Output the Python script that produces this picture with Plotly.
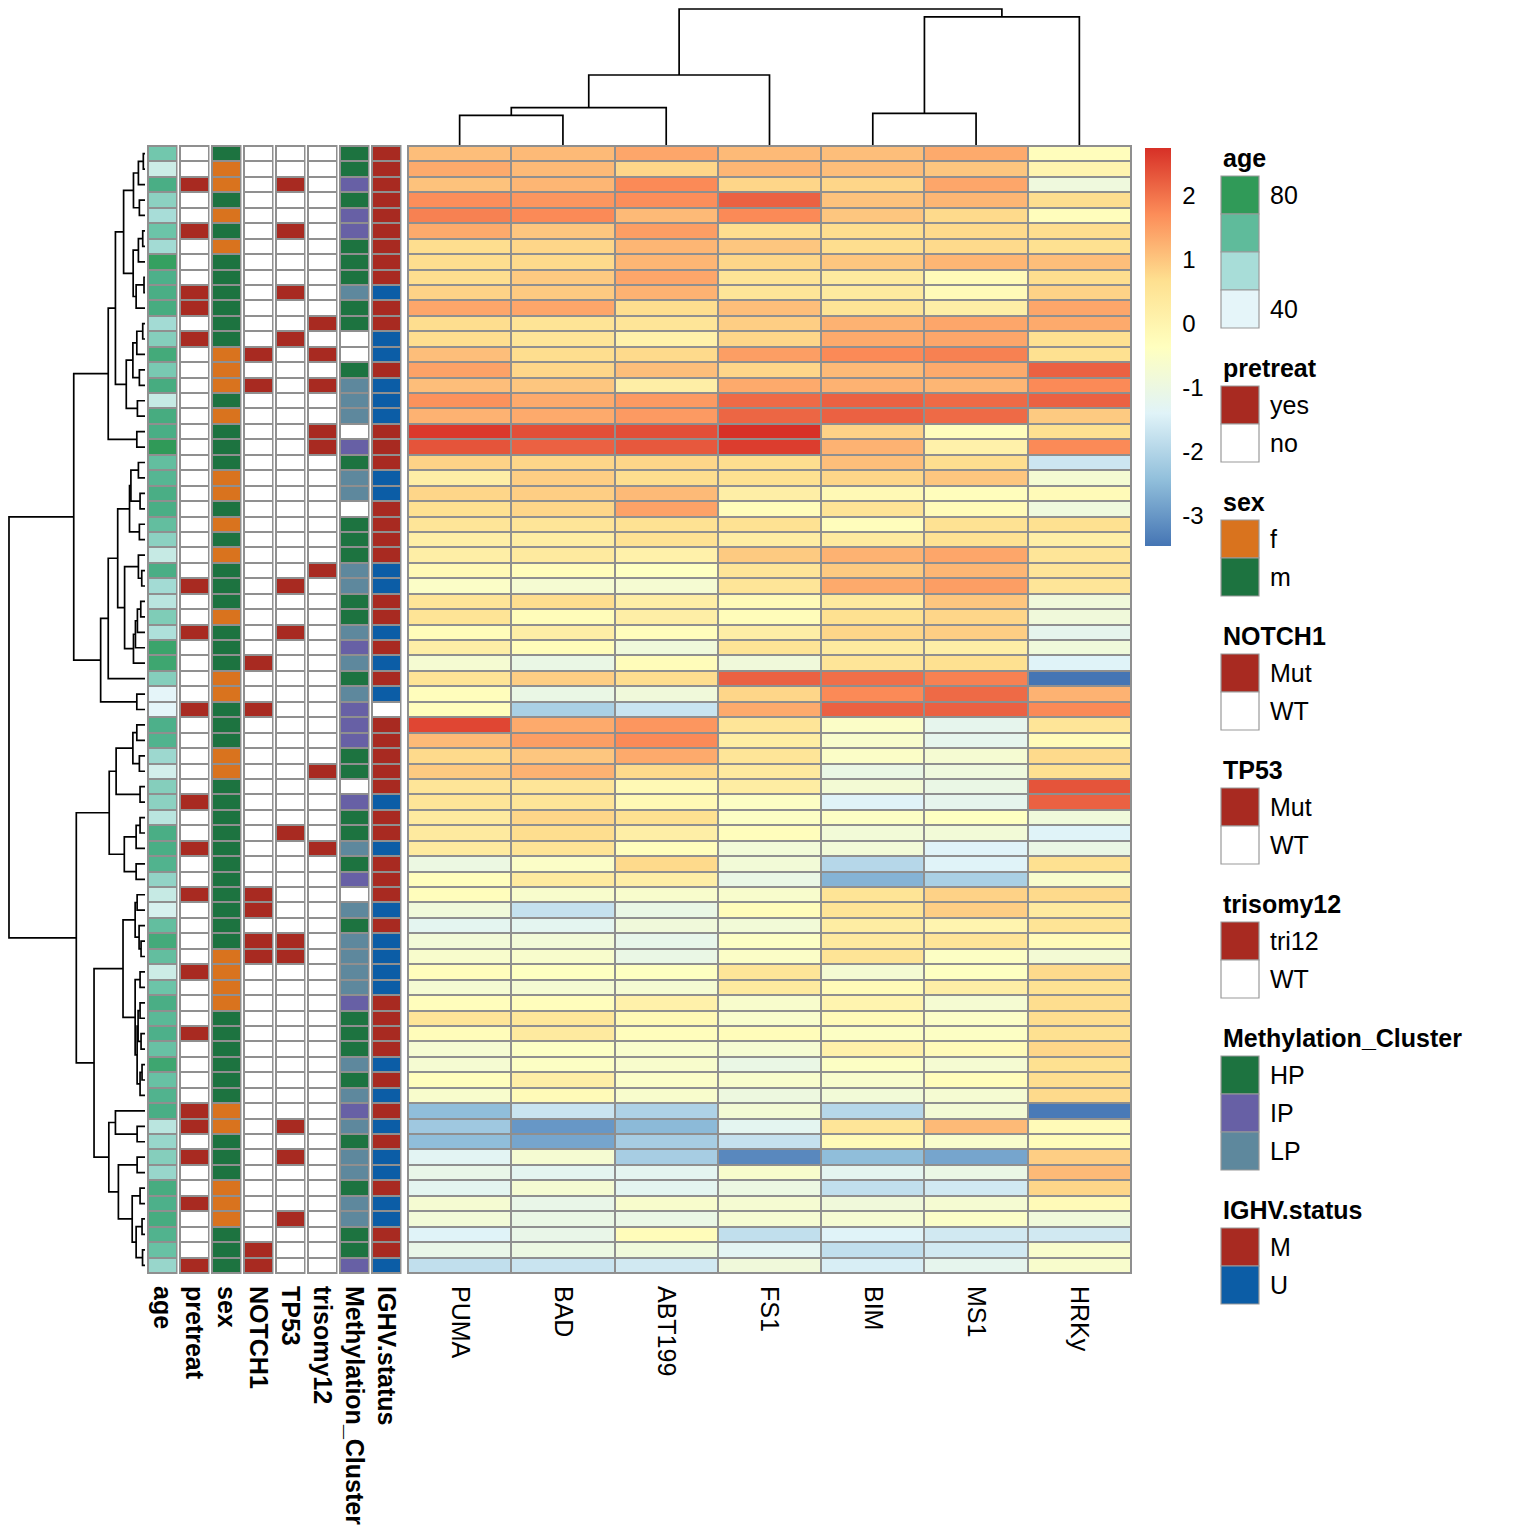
import numpy as np
import plotly.graph_objects as go

# the page adds an 8 px body margin; the figure is sized and shifted to compensate
OFF = 8
W, H = 1536 - OFF, 1536 - OFF
FONT = "Liberation Sans, Arial, Helvetica, sans-serif"

# ---------------- data ----------------
drugs = ["PUMA", "BAD", "ABT199", "FS1", "BIM", "MS1", "HRKy"]

PUMA = [1.1, 1.35, 1.05, 1.7, 1.85, 1.35, 0.7, 0.7, 0.7, 0.85,
        1.4, 0.7, 0.7, 1.1, 1.45, 1.1, 1.65, 1.25, 2.65, 2.35,
        0.85, 0.2, 0.8, 0.65, 0.5, 0.2, 0.2, -0.15, -0.5, 0.5,
        0.55, -0.25, 0.2, -0.7, 0.55, -0.3, -0.3, 2.5, 1.15, 0.75,
        0.95, 0.5, 0.5, 0.35, 0.35, 0.35, -1.0, -0.3, -0.3, -0.85,
        -1.25, -0.8, -0.6, -0.3, -0.7, -0.3, 0.5, -0.25, -0.7, -0.7,
        -0.3, -0.6, -2.45, -2.25, -2.45, -1.3, -1.1, -1.25, -0.7, -0.8,
        -1.4, -1.1, -1.8]
BAD = [1.15, 1.15, 1.2, 1.6, 1.75, 1.0, 0.8, 0.75, 0.95, 0.95,
       1.4, 0.55, 0.5, 0.7, 0.8, 1.0, 1.35, 1.35, 2.4, 2.2,
       0.8, 0.9, 0.9, 0.8, 0.5, 0.25, 0.35, -0.25, -0.7, 0.7,
       -0.25, 0.2, -0.25, -1.05, 0.9, -1.05, -2.1, 1.35, 1.5, 1.0,
       1.25, 0.5, 0.5, 0.8, 0.7, 0.55, -0.5, 0.35, -0.6, -1.75,
       -1.25, -0.8, -0.6, -0.4, -0.7, -0.3, 0.45, 0.35, -0.45, -0.45,
       0.2, -0.2, -1.7, -3.0, -2.8, -0.7, -1.25, -0.7, -1.1, -1.05,
       -1.1, -1.0, -1.7]
ABT199 = [1.4, 0.8, 1.75, 1.7, 1.15, 1.5, 1.2, 1.2, 1.4, 1.25,
          0.7, 0.5, 0.1, 0.75, 1.1, 0.2, 1.55, 1.55, 2.4, 2.3,
          0.8, 0.7, 1.15, 1.45, 0.6, 0.6, 0.1, -0.4, -0.7, 0.2,
          0.2, -0.3, -0.85, -0.25, 0.7, -0.85, -1.7, 1.6, 1.75, 1.35,
          0.75, -0.15, -0.15, 0.65, 0.2, -0.3, 0.75, 0.2, -0.6, -1.05,
          -0.85, -1.15, -1.05, -0.4, -0.7, 0.1, -0.15, -0.3, -0.6, -0.6,
          -0.5, -0.6, -2.05, -2.5, -2.15, -2.15, -1.25, -1.25, -0.6, -1.05,
          -0.25, -0.85, -1.6]
FS1 = [1.15, 1.2, 0.8, 2.2, 1.75, 0.7, 1.0, 0.8, 0.55, 0.5,
       1.1, 0.9, 0.8, 1.5, 0.8, 1.35, 2.1, 2.15, 2.75, 2.6,
       0.7, 0.65, 0.2, -0.25, 0.6, 0.25, 0.95, 0.5, 0.5, -0.2,
       -0.25, 0.2, 0.55, -0.85, 2.2, 0.8, 1.35, 0.5, 0.25, 0.5,
       0.35, 0.25, -0.45, -0.45, -0.3, -0.8, -0.8, -1.05, -0.6, -0.25,
       -0.8, -0.45, -0.5, 0.5, 0.35, -0.6, -0.6, -0.25, -0.7, -1.05,
       -0.6, -0.95, -0.75, -1.25, -1.75, -3.2, -0.6, -1.0, -0.7, -0.7,
       -1.8, -1.3, -0.85]
BIM = [1.1, 1.1, 0.8, 1.05, 1.0, 0.7, 0.7, 1.0, 0.35, 0.35,
       0.55, 1.25, 1.35, 1.75, 1.15, 1.25, 2.2, 2.2, 0.85, 1.25,
       1.1, 0.8, -0.15, 0.55, -0.3, 0.35, 1.25, 0.95, 1.35, 0.35,
       0.65, 0.8, 0.35, 0.5, 2.05, 1.75, 2.2, -0.5, -0.6, -0.5,
       -1.05, -0.75, -1.4, -0.45, -0.8, -0.8, -1.95, -2.6, 0.55, 0.55,
       0.25, 0.35, 0.55, -0.7, -0.2, 0.0, -0.2, -0.45, 0.1, -0.45,
       -0.6, -0.8, -1.95, 0.5, -0.2, -2.45, -1.25, -1.8, -0.85, -0.7,
       -1.4, -1.8, -1.5]
MS1 = [1.35, 1.0, 1.4, 1.2, 0.75, 0.75, 0.75, 1.2, -0.2, -0.2,
       0.2, 1.4, 1.4, 1.85, 1.35, 1.2, 2.1, 2.1, -0.3, 0.1,
       0.7, 1.0, -0.3, -0.2, 0.6, 0.6, 1.4, 1.2, 1.5, 1.0,
       0.8, 0.9, 0.2, 0.65, 1.85, 2.1, 2.2, -1.2, -1.2, -0.7,
       -0.9, -1.05, -1.2, -0.4, -0.8, -1.4, -1.4, -2.1, 0.85, 0.9,
       0.0, 0.5, -0.45, -0.4, 0.2, -0.7, -0.5, -0.45, -0.2, -0.7,
       -0.25, -0.7, -0.75, 1.15, -0.6, -2.8, -1.05, -1.6, -0.7, -0.5,
       -1.6, -1.6, -1.2]
HRKy = [-0.3, 0.0, -0.9, 0.7, -0.3, 0.7, 0.65, 1.1, 0.7, 0.85,
        1.4, 1.35, 0.65, 0.65, 2.2, 1.75, 2.2, 0.95, 0.65, 1.75,
        -1.65, -0.7, -0.2, -0.9, 0.65, 0.2, 0.5, 0.5, 0.5, -0.85,
        -0.85, -1.2, -0.85, -1.4, -3.47, 1.25, 1.75, 0.5, -0.2, 0.75,
        0.65, 2.35, 2.2, -0.85, -1.4, -1.05, 0.65, -0.6, 0.75, 0.35,
        0.55, -0.2, -0.75, 0.75, 0.6, 0.7, 0.7, 0.65, 0.8, 0.65,
        0.7, 0.75, -3.4, -0.2, -0.25, 0.9, 1.15, 0.8, -0.2, -0.85,
        -1.6, -0.6, -0.6]

age = [62, 47, 71, 58, 53, 63, 54, 78, 70, 71,
       72, 54, 59, 73, 61, 72, 48, 72, 71, 80,
       65, 68, 71, 71, 65, 58, 48, 71, 54, 50,
       60, 52, 76, 75, 59, 40, 40, 70, 69, 55,
       45, 59, 58, 50, 71, 71, 69, 57, 48, 44,
       65, 73, 65, 47, 63, 71, 67, 70, 64, 75,
       64, 69, 71, 50, 56, 59, 56, 72, 70, 72,
       69, 64, 56]
pretreat = ["no", "no", "yes", "no", "no", "yes", "no", "no", "no", "yes",
            "yes", "no", "yes", "no", "no", "no", "no", "no", "no", "no",
            "no", "no", "no", "no", "no", "no", "no", "no", "yes", "no",
            "no", "yes", "no", "no", "no", "no", "yes", "no", "no", "no",
            "no", "no", "yes", "no", "no", "yes", "no", "no", "yes", "no",
            "no", "no", "no", "yes", "no", "no", "no", "yes", "no", "no",
            "no", "no", "yes", "yes", "no", "yes", "no", "no", "yes", "no",
            "no", "no", "yes"]
sex = ["m", "f", "f", "m", "f", "m", "f", "m", "m", "m",
       "m", "m", "m", "f", "f", "f", "m", "f", "m", "m",
       "m", "f", "f", "m", "f", "m", "f", "m", "m", "m",
       "f", "m", "m", "m", "f", "f", "m", "m", "m", "f",
       "f", "m", "m", "m", "m", "m", "m", "m", "m", "m",
       "m", "m", "f", "f", "f", "f", "m", "m", "m", "m",
       "m", "m", "f", "f", "m", "m", "m", "f", "f", "f",
       "m", "m", "m"]
NOTCH1 = ["WT"] * 13 + ["Mut", "WT", "Mut"] + ["WT"] * 17 + ["Mut", "WT", "WT", "Mut"] + \
         ["WT"] * 11 + ["Mut", "Mut", "WT", "Mut", "Mut"] + ["WT"] * 18 + ["Mut", "Mut"]
TP53 = ["WT", "WT", "Mut", "WT", "WT", "Mut", "WT", "WT", "WT", "Mut",
        "WT", "WT", "Mut", "WT", "WT", "WT", "WT", "WT", "WT", "WT",
        "WT", "WT", "WT", "WT", "WT", "WT", "WT", "WT", "Mut", "WT",
        "WT", "Mut", "WT", "WT", "WT", "WT", "WT", "WT", "WT", "WT",
        "WT", "WT", "WT", "WT", "Mut", "WT", "WT", "WT", "WT", "WT",
        "WT", "Mut", "Mut", "WT", "WT", "WT", "WT", "WT", "WT", "WT",
        "WT", "WT", "WT", "Mut", "WT", "Mut", "WT", "WT", "WT", "Mut",
        "WT", "WT", "WT"]
trisomy12 = ["WT", "WT", "WT", "WT", "WT", "WT", "WT", "WT", "WT", "WT",
             "WT", "tri12", "WT", "tri12", "WT", "tri12", "WT", "WT", "tri12", "tri12",
             "WT", "WT", "WT", "WT", "WT", "WT", "WT", "tri12", "WT", "WT",
             "WT", "WT", "WT", "WT", "WT", "WT", "WT", "WT", "WT", "WT",
             "tri12", "WT", "WT", "WT", "WT", "tri12", "WT", "WT", "WT", "WT",
             "WT", "WT", "WT", "WT", "WT", "WT", "WT", "WT", "WT", "WT",
             "WT", "WT", "WT", "WT", "WT", "WT", "WT", "WT", "WT", "WT",
             "WT", "WT", "WT"]
Methylation_Cluster = ["HP", "HP", "IP", "HP", "IP", "IP", "HP", "HP", "HP", "LP",
                       "HP", "HP", "NA", "NA", "HP", "LP", "LP", "LP", "NA", "IP",
                       "HP", "LP", "LP", "NA", "HP", "HP", "HP", "LP", "LP", "HP",
                       "HP", "LP", "IP", "LP", "HP", "LP", "IP", "IP", "IP", "HP",
                       "HP", "NA", "IP", "HP", "HP", "LP", "HP", "IP", "NA", "LP",
                       "HP", "LP", "LP", "LP", "LP", "IP", "HP", "HP", "HP", "LP",
                       "HP", "LP", "IP", "LP", "HP", "LP", "LP", "HP", "LP", "LP",
                       "HP", "HP", "IP"]
IGHV_status = ["M", "M", "M", "M", "M", "M", "M", "M", "M", "U",
               "M", "M", "U", "U", "M", "U", "U", "U", "M", "M",
               "M", "U", "U", "M", "M", "M", "M", "U", "U", "M",
               "M", "U", "M", "U", "M", "U", "NA", "M", "M", "M",
               "M", "M", "U", "M", "M", "U", "M", "M", "M", "U",
               "M", "U", "U", "U", "U", "M", "M", "M", "M", "U",
               "M", "U", "M", "U", "M", "U", "U", "M", "U", "U",
               "M", "M", "U"]

# dendrogram merges: [left, right, height]; leaves are display positions
row_top = [[[[[[1, 2, 1.7], 3, 6.7], [4, 5, 5.7], 11.7],
             [[[6, 7, 2.3], 8, 6.7], [[9, 10, 1.0], 11, 9.0], 12.0], 21.7],
            [[[[12, 13, 2.3], 14, 8.3], [15, 16, 5.7], 12.3], [17, 18, 7.7], 19.0], 30.0],
           [19, 20, 8.3], 37.3]
row_mid = [[[[[[21, 22, 6.7], [23, 24, 5.0], 14.3], [25, 26, 5.7], 15.7],
             [[27, [28, 29, 3.3], 6.7], [[[[30, 31, 4.3], 32, 7.7], 33, 9.7], 34, 11.7], 20.7], 27.7],
            35, 37.3], [36, 37, 8.3], 45.0]
row_r1 = [[[[38, 39, 8.3], [40, 41, 5.7], 12.3], [42, 43, 5.0], 29.3],
          [[[44, 45, 5.0], 46, 9.0], [47, 48, 9.0], 21.0], 36.3]
row_ab = [[[49, 50, 8.0], [51, [52, 53, 4.0], 6.0], 10.0],
          [[54, 55, 5.0], [[[56, 57, 5.0], [58, 59, 4.0], 7.0], [[60, 61, 3.0], 62, 5.0], 8.0], 10.0], 22.3]
row_c = [[63, [64, 65, 8.0], 30.0],
         [[66, 67, 8.0], [[68, 69, 5.0], [[70, 71, 3.0], [72, 73, 2.5], 9.0], 13.0], 27.0], 36.7]
row_tree = [[row_top, row_mid, 72.3], [row_r1, [row_ab, row_c, 51.7], 69.7], 138.0]
col_tree = [[[[1, 2, 30.0], 3, 38.0], 4, 71.0], [[5, 6, 32.0], 7, 130.0], 138.0]

assert all(len(v) == 73 for v in [PUMA, BAD, ABT199, FS1, BIM, MS1, HRKy, age, pretreat, sex,
                                   NOTCH1, TP53, trisomy12, Methylation_Cluster, IGHV_status])

# ---------------- styles ----------------
RED = "#A82A21"
WHITE = "#FFFFFF"
ORANGE = "#D9731E"
DGREEN = "#1D7340"
PURPLE = "#6760A5"
SLATE = "#5E889D"
BLUE = "#0C5DA6"
GRID = "#8F8F8F"
heat_colors = ["#4575B4", "#91BFDB", "#E0F3F8", "#FFFFBF", "#FEE090", "#FC8D59", "#D73027"]
heat_cs = [[i / 6, c] for i, c in enumerate(heat_colors)]
age_stops = [(38, "#EDF8FB"), (40, "#E5F5F9"), (47, "#CCECE6"), (53, "#A8DDD8"), (57, "#92D3C6"),
             (63, "#6CC4A8"), (70, "#4DB08A"), (78, "#35A060"), (82, "#2A9450")]
AGE_MIN, AGE_MAX = 38, 82
age_cs = [[(v - AGE_MIN) / (AGE_MAX - AGE_MIN), c] for v, c in age_stops]


def hex2rgb(h):
    h = h.lstrip("#")
    return [int(h[i:i + 2], 16) for i in (0, 2, 4)]


def interp(stops, v):
    for (v0, c0), (v1, c1) in zip(stops[:-1], stops[1:]):
        if v0 <= v <= v1:
            t = (v - v0) / (v1 - v0)
            a, b = hex2rgb(c0), hex2rgb(c1)
            r = [round(a[k] + t * (b[k] - a[k])) for k in range(3)]
            return "rgb(%d,%d,%d)" % tuple(r)
    return stops[-1][1]


def px(x):
    return (x - OFF) / W


def py(y):
    return 1 - (y - OFF) / H


def discrete_cs(colors):
    n = len(colors)
    cs = []
    for i, c in enumerate(colors):
        cs.append([i / n, c])
        cs.append([(i + 1) / n, c])
    return cs


def dendro(node, segs):
    if isinstance(node, int):
        return float(node), 0.0
    left, right, h = node
    p1, h1 = dendro(left, segs)
    p2, h2 = dendro(right, segs)
    segs.append([(p1, h1), (p1, h), (p2, h), (p2, h2)])
    return (p1 + p2) / 2, h


rows = list(range(1, 74))
fig = go.Figure()
shapes = []
annotations = []

# main heatmap
values = [PUMA, BAD, ABT199, FS1, BIM, MS1, HRKy]
z = np.array(values).T
zmin, zmax = float(z.min()), float(z.max())
fig.add_trace(go.Heatmap(
    z=z, x=list(range(1, 8)), y=rows, colorscale=heat_cs, zmin=zmin, zmax=zmax,
    xgap=2, ygap=2, hoverinfo="skip", xaxis="x", yaxis="y",
    colorbar=dict(x=px(1145), xanchor="left", y=py(347), yanchor="middle",
                  len=398, lenmode="pixels", thickness=26, thicknessmode="pixels",
                  outlinewidth=0, borderwidth=0, xpad=0, ypad=0,
                  tickvals=[-3, -2, -1, 0, 1, 2], ticktext=["-3", "-2", "-1", "0", "1", "2"],
                  ticks="outside", ticklen=7, tickcolor="rgba(0,0,0,0)",
                  tickfont=dict(size=24, color="black", family=FONT))))
shapes.append(dict(type="rect", xref="paper", yref="paper", x0=px(407), x1=px(1132),
                   y0=py(1274), y1=py(145), fillcolor=GRID, line=dict(width=0), layer="below"))

# annotation columns
anno_specs = [
    ("age", age, None, None),
    ("pretreat", pretreat, ["yes", "no"], [RED, WHITE]),
    ("sex", sex, ["f", "m"], [ORANGE, DGREEN]),
    ("NOTCH1", NOTCH1, ["Mut", "WT"], [RED, WHITE]),
    ("TP53", TP53, ["Mut", "WT"], [RED, WHITE]),
    ("trisomy12", trisomy12, ["tri12", "WT"], [RED, WHITE]),
    ("Methylation_Cluster", Methylation_Cluster, ["HP", "IP", "LP", "NA"], [DGREEN, PURPLE, SLATE, WHITE]),
    ("IGHV.status", IGHV_status, ["M", "U", "NA"], [RED, BLUE, WHITE]),
]

layout_axes = {}
for i, (name, vals, cats, cols) in enumerate(anno_specs):
    ax = i + 2
    x0 = 148 + 32 * i
    x1 = x0 + 28.5
    if cats is None:
        zz = [[v] for v in vals]
        tr = go.Heatmap(z=zz, x=[1], y=rows, colorscale=age_cs, zmin=AGE_MIN, zmax=AGE_MAX,
                        showscale=False, xgap=2, ygap=2, hoverinfo="skip",
                        xaxis="x%d" % ax, yaxis="y")
    else:
        zz = [[cats.index(v)] for v in vals]
        tr = go.Heatmap(z=zz, x=[1], y=rows, colorscale=discrete_cs(cols), zmin=-0.5,
                        zmax=len(cats) - 0.5, showscale=False, xgap=2, ygap=2,
                        hoverinfo="skip", xaxis="x%d" % ax, yaxis="y")
    fig.add_trace(tr)
    layout_axes["xaxis%d" % ax] = dict(
        domain=[px(x0), px(x1)], range=[0.5, 1.5], anchor="y", tickvals=[1],
        ticktext=["<b>%s</b>" % name], tickangle=90, showgrid=False, zeroline=False,
        showline=False, ticks="outside", ticklen=7, tickcolor="rgba(0,0,0,0)",
        tickfont=dict(size=25, color="black", family=FONT))
    shapes.append(dict(type="rect", xref="paper", yref="paper", x0=px(x0 - 1), x1=px(x1 + 1),
                       y0=py(1274), y1=py(145), fillcolor=GRID, line=dict(width=0), layer="below"))

# row dendrogram
segs = []
dendro(row_tree, segs)
dx, dy = [], []
for s in segs:
    for (p, h) in s:
        dx.append(h)
        dy.append(p)
    dx.append(None)
    dy.append(None)
fig.add_trace(go.Scatter(x=dx, y=dy, mode="lines", line=dict(color="black", width=1.7),
                         hoverinfo="skip", xaxis="x10", yaxis="y", showlegend=False))

# column dendrogram
segs = []
dendro(col_tree, segs)
cx, cy = [], []
for s in segs:
    for (p, h) in s:
        cx.append(p)
        cy.append(h)
    cx.append(None)
    cy.append(None)
fig.add_trace(go.Scatter(x=cx, y=cy, mode="lines", line=dict(color="black", width=1.7),
                         hoverinfo="skip", xaxis="x", yaxis="y2", showlegend=False))

# legends
LX0, LX1, LTX = 1221, 1259, 1268
BLK = 38
title_y = 158
for i, (name, vals, cats, cols) in enumerate(anno_specs):
    annotations.append(dict(xref="paper", yref="paper", x=px(LX0), y=py(title_y), text="<b>%s</b>" % name,
                            showarrow=False, xanchor="left", yanchor="middle",
                            font=dict(size=25, color="black", family=FONT)))
    top = title_y + 18
    if cats is None:
        lv = [80, 66, 53, 40]
        entries = [(interp(age_stops, v), None) for v in lv]
        labels_at = {0: "80", 3: "40"}
    else:
        entries = [(c, k) for k, c in zip(cats, cols) if k != "NA"]
        labels_at = {j: e[1] for j, e in enumerate(entries)}
    for j, (c, lab) in enumerate(entries):
        y0 = top + BLK * j
        shapes.append(dict(type="rect", xref="paper", yref="paper", x0=px(LX0), x1=px(LX1),
                           y0=py(y0 + BLK), y1=py(y0), fillcolor=c,
                           line=dict(color="#9A9A9A", width=1.2)))
        if j in labels_at:
            annotations.append(dict(xref="paper", yref="paper", x=px(LTX), y=py(y0 + BLK / 2),
                                    text=labels_at[j], showarrow=False, xanchor="left",
                                    yanchor="middle", font=dict(size=25, color="black", family=FONT)))
    title_y = top + BLK * len(entries) + 40

# dendrogram panels span from the canvas edge (ref px 8 -> figure px 0) to the cells;
# a root height of 138 sits ~1 px inside that edge
DEND_SPAN = 139.0
fig.update_layout(
    width=W, height=H, margin=dict(l=0, r=0, t=0, b=0),
    paper_bgcolor="white", plot_bgcolor="rgba(0,0,0,0)", showlegend=False,
    font=dict(family=FONT, color="black"),
    xaxis=dict(domain=[px(408), px(1131)], range=[0.5, 7.5], anchor="y",
               tickvals=list(range(1, 8)), ticktext=drugs, tickangle=90,
               showgrid=False, zeroline=False, showline=False, ticks="outside", ticklen=7,
               tickcolor="rgba(0,0,0,0)", tickfont=dict(size=25, color="black", family=FONT)),
    yaxis=dict(domain=[py(1273), py(146)], range=[73.5, 0.5], anchor="x", visible=False),
    xaxis10=dict(domain=[px(8), px(145)], range=[DEND_SPAN, 0], anchor="y", visible=False),
    yaxis2=dict(domain=[py(145), py(8)], range=[0, DEND_SPAN], anchor="x", visible=False),
    shapes=shapes, annotations=annotations,
    **layout_axes)

fig.write_html("out.html")
